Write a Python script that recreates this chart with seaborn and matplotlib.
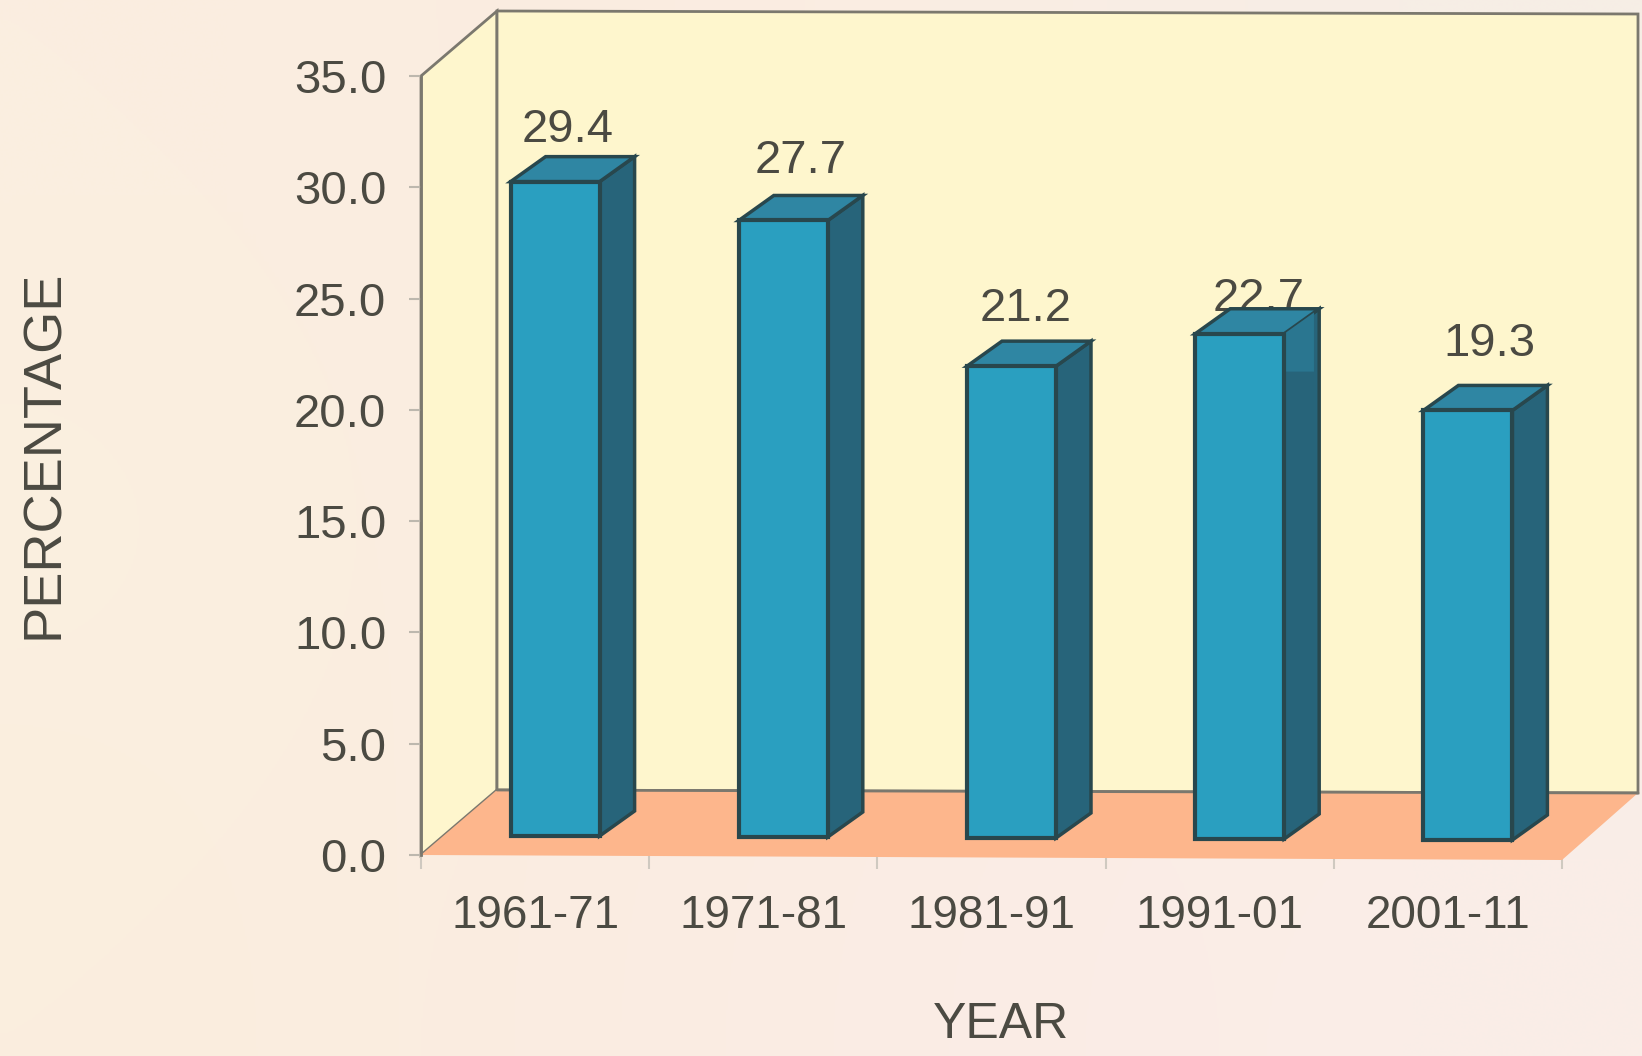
import numpy as np
import pandas as pd
import matplotlib
matplotlib.use("Agg")
import matplotlib.pyplot as plt
import matplotlib.transforms as mtransforms
from matplotlib.patches import Polygon
import seaborn as sns

periods = ["1961-71", "1971-81", "1981-91", "1991-01", "2001-11"]
growth = [29.4, 27.7, 21.2, 22.7, 19.3]
value_labels = ["29.4", "27.7", "21.2", "22.7", "19.3"]
y_ticks = [0, 5, 10, 15, 20, 25, 30, 35]

# colours
WALL = "#fef6cd"
FLOOR = "#fdb68c"
FRONT = "#2a9fc0"
SIDE = "#27647a"
TOP = "#2f86a3"
EDGE = "#28474d"
GRID = "#7b786e"
TEXT = "#4b4a42"

sns.set_theme(style="white")
plt.rcParams["font.family"] = ["Liberation Sans", "DejaVu Sans"]

W, H = 1642, 1056
fig = plt.figure(figsize=(W / 100, H / 100), dpi=100)

# soft paper background
bg = fig.add_axes([0, 0, 1, 1], zorder=-1)
paper = np.array([
    [[250, 238, 224], [251, 236, 224], [250, 238, 228], [246, 238, 230]],
    [[251, 240, 224], [250, 236, 224], [250, 238, 228], [250, 238, 230]],
    [[250, 238, 222], [251, 236, 226], [250, 236, 230], [250, 238, 232]],
]) / 255
bg.imshow(paper, aspect="auto", interpolation="bicubic")
bg.axis("off")

ax = fig.add_axes([421 / W, 1 - 855 / H, 1141 / W, 779 / H], zorder=1)
ax.patch.set_visible(False)

df = pd.DataFrame({"period": periods, "growth": growth})
sns.barplot(data=df, x="period", y="growth", color=FRONT, saturation=1,
            width=0.39, edgecolor=EDGE, linewidth=3, errorbar=None, ax=ax, zorder=4)
ax.set_xlim(-0.5, 4.5)
ax.set_ylim(0, 35)

x_per_px = 5 / 1141
y_per_px = 35 / 779

# the scan is slightly tilted, right side hangs a few pixels lower
front_drop = 5 * y_per_px
back_drop = 3 * y_per_px

# the box behind the bars
wall_dx, wall_dy = 76 * x_per_px, 65 * y_per_px
x0, x1 = -0.5, 4.5
y0, y1 = 0, 35
ax.add_patch(Polygon([(x0, y0), (x0 + wall_dx, y0 + wall_dy), (x0 + wall_dx, y1 + wall_dy), (x0, y1)],
                     closed=True, fc=WALL, ec=GRID, lw=2, clip_on=False, zorder=0))
ax.add_patch(Polygon([(x0 + wall_dx, y0 + wall_dy), (x1 + wall_dx, y0 + wall_dy - back_drop),
                      (x1 + wall_dx, y1 + wall_dy - back_drop), (x0 + wall_dx, y1 + wall_dy)],
                     closed=True, fc=WALL, ec=GRID, lw=2, clip_on=False, zorder=0.5))
ax.add_patch(Polygon([(x0, y0), (x1, y0 - front_drop), (x1 + wall_dx, y0 + wall_dy - back_drop),
                      (x0 + wall_dx, y0 + wall_dy)],
                     closed=True, fc=FLOOR, ec="none", clip_on=False, zorder=1))
ax.plot([x0 + wall_dx, x1 + wall_dx], [y0 + wall_dy, y0 + wall_dy - back_drop], color=GRID, lw=2,
        clip_on=False, zorder=1.5)

# bars sit a little inside the floor, then get a side and a lid
bar_dx, bar_dy = 35 * x_per_px, 25 * y_per_px

# label nudges in pixels from the back edge of each lid
label_shift = [(13, 15), (17, 22), (14, 20), (19, -2), (22, 29)]

for i, (bar, text, (nx, ny)) in enumerate(zip(ax.patches, value_labels, label_shift)):
    shift = mtransforms.ScaledTranslation(20 / 100, (19 - i) / 100, fig.dpi_scale_trans)
    moved = ax.transData + shift
    bar.set_transform(moved)
    bar.set_clip_on(False)
    left = bar.get_x()
    right = left + bar.get_width()
    h = bar.get_height()
    ax.add_patch(Polygon([(right, 0), (right + bar_dx, bar_dy), (right + bar_dx, h + bar_dy), (right, h)],
                         closed=True, fc=SIDE, ec=EDGE, lw=2.5, transform=moved, clip_on=False,
                         zorder=3))
    ax.add_patch(Polygon([(left, h), (right, h), (right + bar_dx, h + bar_dy), (left + bar_dx, h + bar_dy)],
                         closed=True, fc=TOP, ec=EDGE, lw=2.5, transform=moved, clip_on=False,
                         zorder=3))
    ax.annotate(text, xy=((left + right) / 2, h + bar_dy), xycoords=moved,
                xytext=(nx * 0.72, ny * 0.72), textcoords="offset points",
                ha="center", va="baseline", fontsize=34, color=TEXT, zorder=2.5,
                annotation_clip=False)
    if i == 3:
        # lighter smudge at the top of the fourth bar side
        ax.add_patch(Polygon([(right, h - 1.7), (right + bar_dx * 0.85, h - 1.7),
                              (right + bar_dx * 0.85, h + bar_dy * 0.85), (right, h)],
                             closed=True, fc="#2a7690", ec="none", transform=moved,
                             clip_on=False, zorder=3.5))

for name in ["top", "right", "bottom"]:
    ax.spines[name].set_visible(False)
ax.spines["left"].set_color(GRID)
ax.spines["left"].set_linewidth(2)
ax.spines["left"].set_zorder(1.2)

ax.set_yticks(y_ticks)
ax.set_yticklabels([f"{v:.1f}" for v in y_ticks])
ax.tick_params(axis="y", length=9, width=1.5, color="#bdb8ae", left=True, pad=16,
               labelsize=34, labelcolor=TEXT)
ax.tick_params(axis="x", length=0, pad=28, labelsize=33, labelcolor=TEXT)
ax.set_xticks(np.arange(-0.5, 5, 1), minor=True)
ax.tick_params(axis="x", which="minor", bottom=True, length=10, width=1.5, color="#cfc9c0")

ax.set_xlabel("")
ax.set_ylabel("")
fig.text(1001 / W, 1 - 1025 / H, "YEAR", fontsize=36, color=TEXT, ha="center", va="center")
fig.text(44 / W, 1 - 454 / H, "PERCENTAGE", fontsize=39, color=TEXT, rotation=90,
         ha="center", va="center")

fig.savefig("out.png", dpi=100, facecolor="#faeee2")
